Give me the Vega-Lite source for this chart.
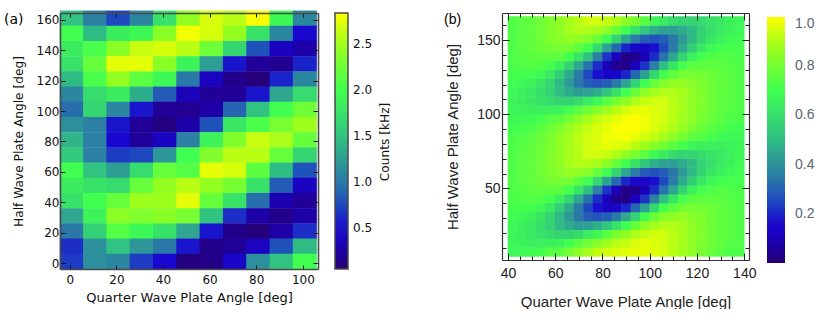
{"$schema":"https://vega.github.io/schema/vega-lite/v6.json","background":"white","padding":{"left":4,"top":10,"right":0,"bottom":0},"spacing":53,
"config":{"view":{"stroke":null},"axis":{"grid":false}},
"datasets":{"a":[
{"q":0,"h":160,"v":1.5},{"q":10,"h":160,"v":1.05},{"q":20,"h":160,"v":0.75},{"q":30,"h":160,"v":1.1},{"q":40,"h":160,"v":1.75},{"q":50,"h":160,"v":2.45},{"q":60,"h":160,"v":2.7},{"q":70,"h":160,"v":2.6},{"q":80,"h":160,"v":2.83},{"q":90,"h":160,"v":1.95},{"q":100,"h":160,"v":1.1},
{"q":0,"h":150,"v":2.0},{"q":10,"h":150,"v":1.45},{"q":20,"h":150,"v":1.85},{"q":30,"h":150,"v":1.95},{"q":40,"h":150,"v":2.4},{"q":50,"h":150,"v":2.8},{"q":60,"h":150,"v":2.7},{"q":70,"h":150,"v":2.45},{"q":80,"h":150,"v":1.75},{"q":90,"h":150,"v":1.1},{"q":100,"h":150,"v":0.5},
{"q":0,"h":140,"v":1.85},{"q":10,"h":140,"v":2.05},{"q":20,"h":140,"v":2.4},{"q":30,"h":140,"v":2.65},{"q":40,"h":140,"v":2.7},{"q":50,"h":140,"v":2.6},{"q":60,"h":140,"v":2.25},{"q":70,"h":140,"v":1.65},{"q":80,"h":140,"v":0.8},{"q":90,"h":140,"v":0.4},{"q":100,"h":140,"v":0.25},
{"q":0,"h":130,"v":1.75},{"q":10,"h":130,"v":2.2},{"q":20,"h":130,"v":2.75},{"q":30,"h":130,"v":2.75},{"q":40,"h":130,"v":2.4},{"q":50,"h":130,"v":1.9},{"q":60,"h":130,"v":1.25},{"q":70,"h":130,"v":0.55},{"q":80,"h":130,"v":0.2},{"q":90,"h":130,"v":0.18},{"q":100,"h":130,"v":0.6},
{"q":0,"h":120,"v":1.45},{"q":10,"h":120,"v":2.05},{"q":20,"h":120,"v":2.45},{"q":30,"h":120,"v":2.15},{"q":40,"h":120,"v":1.95},{"q":50,"h":120,"v":1.0},{"q":60,"h":120,"v":0.4},{"q":70,"h":120,"v":0.15},{"q":80,"h":120,"v":0.1},{"q":90,"h":120,"v":0.6},{"q":100,"h":120,"v":1.1},
{"q":0,"h":110,"v":1.1},{"q":10,"h":110,"v":1.7},{"q":20,"h":110,"v":1.85},{"q":30,"h":110,"v":1.35},{"q":40,"h":110,"v":0.85},{"q":50,"h":110,"v":0.35},{"q":60,"h":110,"v":0.2},{"q":70,"h":110,"v":0.2},{"q":80,"h":110,"v":0.55},{"q":90,"h":110,"v":1.3},{"q":100,"h":110,"v":1.7},
{"q":0,"h":100,"v":0.95},{"q":10,"h":100,"v":1.65},{"q":20,"h":100,"v":1.1},{"q":30,"h":100,"v":0.55},{"q":40,"h":100,"v":0.2},{"q":50,"h":100,"v":0.18},{"q":60,"h":100,"v":0.25},{"q":70,"h":100,"v":0.9},{"q":80,"h":100,"v":1.5},{"q":90,"h":100,"v":2.0},{"q":100,"h":100,"v":2.25},
{"q":0,"h":90,"v":1.15},{"q":10,"h":90,"v":1.05},{"q":20,"h":90,"v":0.55},{"q":30,"h":90,"v":0.2},{"q":40,"h":90,"v":0.12},{"q":50,"h":90,"v":0.25},{"q":60,"h":90,"v":0.8},{"q":70,"h":90,"v":1.8},{"q":80,"h":90,"v":2.05},{"q":90,"h":90,"v":2.3},{"q":100,"h":90,"v":2.5},
{"q":0,"h":80,"v":1.4},{"q":10,"h":80,"v":1.05},{"q":20,"h":80,"v":0.5},{"q":30,"h":80,"v":0.2},{"q":40,"h":80,"v":0.4},{"q":50,"h":80,"v":1.05},{"q":60,"h":80,"v":1.9},{"q":70,"h":80,"v":2.35},{"q":80,"h":80,"v":2.65},{"q":90,"h":80,"v":2.55},{"q":100,"h":80,"v":2.2},
{"q":0,"h":70,"v":1.55},{"q":10,"h":70,"v":1.05},{"q":20,"h":70,"v":0.7},{"q":30,"h":70,"v":0.75},{"q":40,"h":70,"v":1.2},{"q":50,"h":70,"v":2.0},{"q":60,"h":70,"v":2.35},{"q":70,"h":70,"v":2.6},{"q":80,"h":70,"v":2.6},{"q":90,"h":70,"v":2.2},{"q":100,"h":70,"v":1.65},
{"q":0,"h":60,"v":2.0},{"q":10,"h":60,"v":1.5},{"q":20,"h":60,"v":1.25},{"q":30,"h":60,"v":1.7},{"q":40,"h":60,"v":2.2},{"q":50,"h":60,"v":2.1},{"q":60,"h":60,"v":2.75},{"q":70,"h":60,"v":2.7},{"q":80,"h":60,"v":2.15},{"q":90,"h":60,"v":1.45},{"q":100,"h":60,"v":0.8},
{"q":0,"h":50,"v":1.85},{"q":10,"h":50,"v":1.75},{"q":20,"h":50,"v":1.7},{"q":30,"h":50,"v":2.2},{"q":40,"h":50,"v":2.45},{"q":50,"h":50,"v":2.6},{"q":60,"h":50,"v":2.45},{"q":70,"h":50,"v":2.3},{"q":80,"h":50,"v":1.75},{"q":90,"h":50,"v":0.85},{"q":100,"h":50,"v":0.4},
{"q":0,"h":40,"v":1.75},{"q":10,"h":40,"v":2.0},{"q":20,"h":40,"v":2.2},{"q":30,"h":40,"v":2.5},{"q":40,"h":40,"v":2.5},{"q":50,"h":40,"v":2.75},{"q":60,"h":40,"v":2.2},{"q":70,"h":40,"v":1.75},{"q":80,"h":40,"v":0.95},{"q":90,"h":40,"v":0.3},{"q":100,"h":40,"v":0.2},
{"q":0,"h":30,"v":1.3},{"q":10,"h":30,"v":1.9},{"q":20,"h":30,"v":2.4},{"q":30,"h":30,"v":2.35},{"q":40,"h":30,"v":2.4},{"q":50,"h":30,"v":2.3},{"q":60,"h":30,"v":1.5},{"q":70,"h":30,"v":0.65},{"q":80,"h":30,"v":0.25},{"q":90,"h":30,"v":0.15},{"q":100,"h":30,"v":0.25},
{"q":0,"h":20,"v":1.0},{"q":10,"h":20,"v":1.6},{"q":20,"h":20,"v":2.1},{"q":30,"h":20,"v":1.95},{"q":40,"h":20,"v":1.75},{"q":50,"h":20,"v":1.3},{"q":60,"h":20,"v":0.55},{"q":70,"h":20,"v":0.15},{"q":80,"h":20,"v":0.1},{"q":90,"h":20,"v":0.25},{"q":100,"h":20,"v":0.65},
{"q":0,"h":10,"v":0.65},{"q":10,"h":10,"v":1.15},{"q":20,"h":10,"v":1.5},{"q":30,"h":10,"v":1.2},{"q":40,"h":10,"v":1.0},{"q":50,"h":10,"v":0.55},{"q":60,"h":10,"v":0.15},{"q":70,"h":10,"v":0.2},{"q":80,"h":10,"v":0.4},{"q":90,"h":10,"v":0.8},{"q":100,"h":10,"v":1.45},
{"q":0,"h":0,"v":0.7},{"q":10,"h":0,"v":1.15},{"q":20,"h":0,"v":1.1},{"q":30,"h":0,"v":0.7},{"q":40,"h":0,"v":0.5},{"q":50,"h":0,"v":0.12},{"q":60,"h":0,"v":0.15},{"q":70,"h":0,"v":0.45},{"q":80,"h":0,"v":1.15},{"q":90,"h":0,"v":1.5},{"q":100,"h":0,"v":2.0}
],"b":[
{"q":42,"h":6,"v":0.68},{"q":42,"h":12,"v":0.67},{"q":42,"h":18,"v":0.67},{"q":42,"h":24,"v":0.68},{"q":42,"h":30,"v":0.695},{"q":42,"h":36,"v":0.71},{"q":42,"h":42,"v":0.72},{"q":42,"h":48,"v":0.73},{"q":42,"h":54,"v":0.73},{"q":42,"h":60,"v":0.73},{"q":42,"h":66,"v":0.73},{"q":42,"h":72,"v":0.73},{"q":42,"h":78,"v":0.73},{"q":42,"h":84,"v":0.72},{"q":42,"h":90,"v":0.7},{"q":42,"h":96,"v":0.68},{"q":42,"h":102,"v":0.67},{"q":42,"h":108,"v":0.67},{"q":42,"h":114,"v":0.68},{"q":42,"h":120,"v":0.695},{"q":42,"h":126,"v":0.71},{"q":42,"h":132,"v":0.72},{"q":42,"h":138,"v":0.73},{"q":42,"h":144,"v":0.73},{"q":42,"h":150,"v":0.73},{"q":42,"h":156,"v":0.73},{"q":42,"h":162,"v":0.73},
{"q":46,"h":6,"v":0.68},{"q":46,"h":12,"v":0.66},{"q":46,"h":18,"v":0.65},{"q":46,"h":24,"v":0.66},{"q":46,"h":30,"v":0.68},{"q":46,"h":36,"v":0.71},{"q":46,"h":42,"v":0.73},{"q":46,"h":48,"v":0.74},{"q":46,"h":54,"v":0.75},{"q":46,"h":60,"v":0.75},{"q":46,"h":66,"v":0.75},{"q":46,"h":72,"v":0.75},{"q":46,"h":78,"v":0.74},{"q":46,"h":84,"v":0.73},{"q":46,"h":90,"v":0.71},{"q":46,"h":96,"v":0.68},{"q":46,"h":102,"v":0.66},{"q":46,"h":108,"v":0.65},{"q":46,"h":114,"v":0.66},{"q":46,"h":120,"v":0.68},{"q":46,"h":126,"v":0.71},{"q":46,"h":132,"v":0.73},{"q":46,"h":138,"v":0.74},{"q":46,"h":144,"v":0.75},{"q":46,"h":150,"v":0.75},{"q":46,"h":156,"v":0.75},{"q":46,"h":162,"v":0.75},
{"q":50,"h":6,"v":0.69},{"q":50,"h":12,"v":0.65},{"q":50,"h":18,"v":0.63},{"q":50,"h":24,"v":0.635},{"q":50,"h":30,"v":0.66},{"q":50,"h":36,"v":0.7},{"q":50,"h":42,"v":0.74},{"q":50,"h":48,"v":0.755},{"q":50,"h":54,"v":0.765},{"q":50,"h":60,"v":0.765},{"q":50,"h":66,"v":0.765},{"q":50,"h":72,"v":0.765},{"q":50,"h":78,"v":0.76},{"q":50,"h":84,"v":0.75},{"q":50,"h":90,"v":0.73},{"q":50,"h":96,"v":0.69},{"q":50,"h":102,"v":0.65},{"q":50,"h":108,"v":0.63},{"q":50,"h":114,"v":0.635},{"q":50,"h":120,"v":0.66},{"q":50,"h":126,"v":0.7},{"q":50,"h":132,"v":0.74},{"q":50,"h":138,"v":0.755},{"q":50,"h":144,"v":0.765},{"q":50,"h":150,"v":0.765},{"q":50,"h":156,"v":0.765},{"q":50,"h":162,"v":0.765},
{"q":54,"h":6,"v":0.71},{"q":54,"h":12,"v":0.65},{"q":54,"h":18,"v":0.61},{"q":54,"h":24,"v":0.6},{"q":54,"h":30,"v":0.625},{"q":54,"h":36,"v":0.68},{"q":54,"h":42,"v":0.73},{"q":54,"h":48,"v":0.76},{"q":54,"h":54,"v":0.785},{"q":54,"h":60,"v":0.79},{"q":54,"h":66,"v":0.79},{"q":54,"h":72,"v":0.79},{"q":54,"h":78,"v":0.79},{"q":54,"h":84,"v":0.775},{"q":54,"h":90,"v":0.75},{"q":54,"h":96,"v":0.71},{"q":54,"h":102,"v":0.65},{"q":54,"h":108,"v":0.61},{"q":54,"h":114,"v":0.6},{"q":54,"h":120,"v":0.625},{"q":54,"h":126,"v":0.68},{"q":54,"h":132,"v":0.73},{"q":54,"h":138,"v":0.76},{"q":54,"h":144,"v":0.785},{"q":54,"h":150,"v":0.79},{"q":54,"h":156,"v":0.79},{"q":54,"h":162,"v":0.79},
{"q":58,"h":6,"v":0.74},{"q":58,"h":12,"v":0.66},{"q":58,"h":18,"v":0.59},{"q":58,"h":24,"v":0.56},{"q":58,"h":30,"v":0.57},{"q":58,"h":36,"v":0.63},{"q":58,"h":42,"v":0.705},{"q":58,"h":48,"v":0.76},{"q":58,"h":54,"v":0.8},{"q":58,"h":60,"v":0.82},{"q":58,"h":66,"v":0.825},{"q":58,"h":72,"v":0.825},{"q":58,"h":78,"v":0.82},{"q":58,"h":84,"v":0.81},{"q":58,"h":90,"v":0.785},{"q":58,"h":96,"v":0.74},{"q":58,"h":102,"v":0.66},{"q":58,"h":108,"v":0.59},{"q":58,"h":114,"v":0.56},{"q":58,"h":120,"v":0.57},{"q":58,"h":126,"v":0.63},{"q":58,"h":132,"v":0.705},{"q":58,"h":138,"v":0.76},{"q":58,"h":144,"v":0.8},{"q":58,"h":150,"v":0.82},{"q":58,"h":156,"v":0.825},{"q":58,"h":162,"v":0.825},
{"q":62,"h":6,"v":0.755},{"q":62,"h":12,"v":0.67},{"q":62,"h":18,"v":0.57},{"q":62,"h":24,"v":0.5},{"q":62,"h":30,"v":0.495},{"q":62,"h":36,"v":0.55},{"q":62,"h":42,"v":0.65},{"q":62,"h":48,"v":0.75},{"q":62,"h":54,"v":0.805},{"q":62,"h":60,"v":0.84},{"q":62,"h":66,"v":0.855},{"q":62,"h":72,"v":0.855},{"q":62,"h":78,"v":0.855},{"q":62,"h":84,"v":0.85},{"q":62,"h":90,"v":0.82},{"q":62,"h":96,"v":0.755},{"q":62,"h":102,"v":0.67},{"q":62,"h":108,"v":0.57},{"q":62,"h":114,"v":0.5},{"q":62,"h":120,"v":0.495},{"q":62,"h":126,"v":0.55},{"q":62,"h":132,"v":0.65},{"q":62,"h":138,"v":0.75},{"q":62,"h":144,"v":0.805},{"q":62,"h":150,"v":0.84},{"q":62,"h":156,"v":0.855},{"q":62,"h":162,"v":0.855},
{"q":66,"h":6,"v":0.8},{"q":66,"h":12,"v":0.705},{"q":66,"h":18,"v":0.57},{"q":66,"h":24,"v":0.46},{"q":66,"h":30,"v":0.42},{"q":66,"h":36,"v":0.46},{"q":66,"h":42,"v":0.57},{"q":66,"h":48,"v":0.705},{"q":66,"h":54,"v":0.8},{"q":66,"h":60,"v":0.865},{"q":66,"h":66,"v":0.89},{"q":66,"h":72,"v":0.89},{"q":66,"h":78,"v":0.89},{"q":66,"h":84,"v":0.885},{"q":66,"h":90,"v":0.865},{"q":66,"h":96,"v":0.8},{"q":66,"h":102,"v":0.705},{"q":66,"h":108,"v":0.57},{"q":66,"h":114,"v":0.46},{"q":66,"h":120,"v":0.42},{"q":66,"h":126,"v":0.46},{"q":66,"h":132,"v":0.57},{"q":66,"h":138,"v":0.705},{"q":66,"h":144,"v":0.8},{"q":66,"h":150,"v":0.865},{"q":66,"h":156,"v":0.89},{"q":66,"h":162,"v":0.89},
{"q":70,"h":6,"v":0.85},{"q":70,"h":12,"v":0.75},{"q":70,"h":18,"v":0.59},{"q":70,"h":24,"v":0.43},{"q":70,"h":30,"v":0.34},{"q":70,"h":36,"v":0.35},{"q":70,"h":42,"v":0.45},{"q":70,"h":48,"v":0.62},{"q":70,"h":54,"v":0.755},{"q":70,"h":60,"v":0.855},{"q":70,"h":66,"v":0.905},{"q":70,"h":72,"v":0.915},{"q":70,"h":78,"v":0.915},{"q":70,"h":84,"v":0.915},{"q":70,"h":90,"v":0.9},{"q":70,"h":96,"v":0.85},{"q":70,"h":102,"v":0.75},{"q":70,"h":108,"v":0.59},{"q":70,"h":114,"v":0.43},{"q":70,"h":120,"v":0.34},{"q":70,"h":126,"v":0.35},{"q":70,"h":132,"v":0.45},{"q":70,"h":138,"v":0.62},{"q":70,"h":144,"v":0.755},{"q":70,"h":150,"v":0.855},{"q":70,"h":156,"v":0.905},{"q":70,"h":162,"v":0.915},
{"q":74,"h":6,"v":0.89},{"q":74,"h":12,"v":0.79},{"q":74,"h":18,"v":0.64},{"q":74,"h":24,"v":0.44},{"q":74,"h":30,"v":0.29},{"q":74,"h":36,"v":0.25},{"q":74,"h":42,"v":0.33},{"q":74,"h":48,"v":0.51},{"q":74,"h":54,"v":0.7},{"q":74,"h":60,"v":0.835},{"q":74,"h":66,"v":0.905},{"q":74,"h":72,"v":0.945},{"q":74,"h":78,"v":0.945},{"q":74,"h":84,"v":0.945},{"q":74,"h":90,"v":0.93},{"q":74,"h":96,"v":0.89},{"q":74,"h":102,"v":0.79},{"q":74,"h":108,"v":0.64},{"q":74,"h":114,"v":0.44},{"q":74,"h":120,"v":0.29},{"q":74,"h":126,"v":0.25},{"q":74,"h":132,"v":0.33},{"q":74,"h":138,"v":0.51},{"q":74,"h":144,"v":0.7},{"q":74,"h":150,"v":0.835},{"q":74,"h":156,"v":0.905},{"q":74,"h":162,"v":0.945},
{"q":78,"h":6,"v":0.925},{"q":78,"h":12,"v":0.835},{"q":78,"h":18,"v":0.68},{"q":78,"h":24,"v":0.47},{"q":78,"h":30,"v":0.27},{"q":78,"h":36,"v":0.17},{"q":78,"h":42,"v":0.21},{"q":78,"h":48,"v":0.36},{"q":78,"h":54,"v":0.58},{"q":78,"h":60,"v":0.775},{"q":78,"h":66,"v":0.89},{"q":78,"h":72,"v":0.945},{"q":78,"h":78,"v":0.955},{"q":78,"h":84,"v":0.96},{"q":78,"h":90,"v":0.955},{"q":78,"h":96,"v":0.925},{"q":78,"h":102,"v":0.835},{"q":78,"h":108,"v":0.68},{"q":78,"h":114,"v":0.47},{"q":78,"h":120,"v":0.27},{"q":78,"h":126,"v":0.17},{"q":78,"h":132,"v":0.21},{"q":78,"h":138,"v":0.36},{"q":78,"h":144,"v":0.58},{"q":78,"h":150,"v":0.775},{"q":78,"h":156,"v":0.89},{"q":78,"h":162,"v":0.945},
{"q":82,"h":6,"v":0.945},{"q":82,"h":12,"v":0.88},{"q":82,"h":18,"v":0.75},{"q":82,"h":24,"v":0.53},{"q":82,"h":30,"v":0.29},{"q":82,"h":36,"v":0.13},{"q":82,"h":42,"v":0.1},{"q":82,"h":48,"v":0.22},{"q":82,"h":54,"v":0.44},{"q":82,"h":60,"v":0.69},{"q":82,"h":66,"v":0.85},{"q":82,"h":72,"v":0.93},{"q":82,"h":78,"v":0.97},{"q":82,"h":84,"v":0.98},{"q":82,"h":90,"v":0.97},{"q":82,"h":96,"v":0.945},{"q":82,"h":102,"v":0.88},{"q":82,"h":108,"v":0.75},{"q":82,"h":114,"v":0.53},{"q":82,"h":120,"v":0.29},{"q":82,"h":126,"v":0.13},{"q":82,"h":132,"v":0.1},{"q":82,"h":138,"v":0.22},{"q":82,"h":144,"v":0.44},{"q":82,"h":150,"v":0.69},{"q":82,"h":156,"v":0.85},{"q":82,"h":162,"v":0.93},
{"q":86,"h":6,"v":0.955},{"q":86,"h":12,"v":0.915},{"q":86,"h":18,"v":0.81},{"q":86,"h":24,"v":0.61},{"q":86,"h":30,"v":0.35},{"q":86,"h":36,"v":0.14},{"q":86,"h":42,"v":0.04},{"q":86,"h":48,"v":0.11},{"q":86,"h":54,"v":0.31},{"q":86,"h":60,"v":0.57},{"q":86,"h":66,"v":0.775},{"q":86,"h":72,"v":0.9},{"q":86,"h":78,"v":0.96},{"q":86,"h":84,"v":0.985},{"q":86,"h":90,"v":0.99},{"q":86,"h":96,"v":0.97},{"q":86,"h":102,"v":0.915},{"q":86,"h":108,"v":0.81},{"q":86,"h":114,"v":0.61},{"q":86,"h":120,"v":0.35},{"q":86,"h":126,"v":0.14},{"q":86,"h":132,"v":0.04},{"q":86,"h":138,"v":0.11},{"q":86,"h":144,"v":0.31},{"q":86,"h":150,"v":0.57},{"q":86,"h":156,"v":0.775},{"q":86,"h":162,"v":0.9},
{"q":90,"h":6,"v":0.965},{"q":90,"h":12,"v":0.93},{"q":90,"h":18,"v":0.855},{"q":90,"h":24,"v":0.7},{"q":90,"h":30,"v":0.45},{"q":90,"h":36,"v":0.2},{"q":90,"h":42,"v":0.03},{"q":90,"h":48,"v":0.03},{"q":90,"h":54,"v":0.2},{"q":90,"h":60,"v":0.45},{"q":90,"h":66,"v":0.7},{"q":90,"h":72,"v":0.855},{"q":90,"h":78,"v":0.95},{"q":90,"h":84,"v":0.99},{"q":90,"h":90,"v":1.0},{"q":90,"h":96,"v":0.99},{"q":90,"h":102,"v":0.95},{"q":90,"h":108,"v":0.855},{"q":90,"h":114,"v":0.7},{"q":90,"h":120,"v":0.45},{"q":90,"h":126,"v":0.2},{"q":90,"h":132,"v":0.03},{"q":90,"h":138,"v":0.03},{"q":90,"h":144,"v":0.2},{"q":90,"h":150,"v":0.45},{"q":90,"h":156,"v":0.7},{"q":90,"h":162,"v":0.855},
{"q":94,"h":6,"v":0.97},{"q":94,"h":12,"v":0.955},{"q":94,"h":18,"v":0.9},{"q":94,"h":24,"v":0.775},{"q":94,"h":30,"v":0.57},{"q":94,"h":36,"v":0.31},{"q":94,"h":42,"v":0.11},{"q":94,"h":48,"v":0.04},{"q":94,"h":54,"v":0.14},{"q":94,"h":60,"v":0.35},{"q":94,"h":66,"v":0.61},{"q":94,"h":72,"v":0.81},{"q":94,"h":78,"v":0.915},{"q":94,"h":84,"v":0.97},{"q":94,"h":90,"v":0.995},{"q":94,"h":96,"v":1.0},{"q":94,"h":102,"v":0.97},{"q":94,"h":108,"v":0.9},{"q":94,"h":114,"v":0.775},{"q":94,"h":120,"v":0.57},{"q":94,"h":126,"v":0.31},{"q":94,"h":132,"v":0.11},{"q":94,"h":138,"v":0.04},{"q":94,"h":144,"v":0.14},{"q":94,"h":150,"v":0.35},{"q":94,"h":156,"v":0.61},{"q":94,"h":162,"v":0.81},
{"q":98,"h":6,"v":0.97},{"q":98,"h":12,"v":0.97},{"q":98,"h":18,"v":0.93},{"q":98,"h":24,"v":0.85},{"q":98,"h":30,"v":0.69},{"q":98,"h":36,"v":0.44},{"q":98,"h":42,"v":0.22},{"q":98,"h":48,"v":0.1},{"q":98,"h":54,"v":0.13},{"q":98,"h":60,"v":0.29},{"q":98,"h":66,"v":0.53},{"q":98,"h":72,"v":0.75},{"q":98,"h":78,"v":0.88},{"q":98,"h":84,"v":0.945},{"q":98,"h":90,"v":0.98},{"q":98,"h":96,"v":0.985},{"q":98,"h":102,"v":0.97},{"q":98,"h":108,"v":0.93},{"q":98,"h":114,"v":0.85},{"q":98,"h":120,"v":0.69},{"q":98,"h":126,"v":0.44},{"q":98,"h":132,"v":0.22},{"q":98,"h":138,"v":0.1},{"q":98,"h":144,"v":0.13},{"q":98,"h":150,"v":0.29},{"q":98,"h":156,"v":0.53},{"q":98,"h":162,"v":0.75},
{"q":102,"h":6,"v":0.96},{"q":102,"h":12,"v":0.955},{"q":102,"h":18,"v":0.945},{"q":102,"h":24,"v":0.89},{"q":102,"h":30,"v":0.775},{"q":102,"h":36,"v":0.58},{"q":102,"h":42,"v":0.36},{"q":102,"h":48,"v":0.21},{"q":102,"h":54,"v":0.17},{"q":102,"h":60,"v":0.27},{"q":102,"h":66,"v":0.47},{"q":102,"h":72,"v":0.68},{"q":102,"h":78,"v":0.835},{"q":102,"h":84,"v":0.925},{"q":102,"h":90,"v":0.955},{"q":102,"h":96,"v":0.96},{"q":102,"h":102,"v":0.955},{"q":102,"h":108,"v":0.945},{"q":102,"h":114,"v":0.89},{"q":102,"h":120,"v":0.775},{"q":102,"h":126,"v":0.58},{"q":102,"h":132,"v":0.36},{"q":102,"h":138,"v":0.21},{"q":102,"h":144,"v":0.17},{"q":102,"h":150,"v":0.27},{"q":102,"h":156,"v":0.47},{"q":102,"h":162,"v":0.68},
{"q":106,"h":6,"v":0.945},{"q":106,"h":12,"v":0.945},{"q":106,"h":18,"v":0.945},{"q":106,"h":24,"v":0.905},{"q":106,"h":30,"v":0.835},{"q":106,"h":36,"v":0.7},{"q":106,"h":42,"v":0.51},{"q":106,"h":48,"v":0.33},{"q":106,"h":54,"v":0.25},{"q":106,"h":60,"v":0.29},{"q":106,"h":66,"v":0.44},{"q":106,"h":72,"v":0.64},{"q":106,"h":78,"v":0.79},{"q":106,"h":84,"v":0.89},{"q":106,"h":90,"v":0.93},{"q":106,"h":96,"v":0.945},{"q":106,"h":102,"v":0.945},{"q":106,"h":108,"v":0.945},{"q":106,"h":114,"v":0.905},{"q":106,"h":120,"v":0.835},{"q":106,"h":126,"v":0.7},{"q":106,"h":132,"v":0.51},{"q":106,"h":138,"v":0.33},{"q":106,"h":144,"v":0.25},{"q":106,"h":150,"v":0.29},{"q":106,"h":156,"v":0.44},{"q":106,"h":162,"v":0.64},
{"q":110,"h":6,"v":0.915},{"q":110,"h":12,"v":0.915},{"q":110,"h":18,"v":0.915},{"q":110,"h":24,"v":0.905},{"q":110,"h":30,"v":0.855},{"q":110,"h":36,"v":0.755},{"q":110,"h":42,"v":0.62},{"q":110,"h":48,"v":0.45},{"q":110,"h":54,"v":0.35},{"q":110,"h":60,"v":0.34},{"q":110,"h":66,"v":0.43},{"q":110,"h":72,"v":0.59},{"q":110,"h":78,"v":0.75},{"q":110,"h":84,"v":0.85},{"q":110,"h":90,"v":0.9},{"q":110,"h":96,"v":0.915},{"q":110,"h":102,"v":0.915},{"q":110,"h":108,"v":0.915},{"q":110,"h":114,"v":0.905},{"q":110,"h":120,"v":0.855},{"q":110,"h":126,"v":0.755},{"q":110,"h":132,"v":0.62},{"q":110,"h":138,"v":0.45},{"q":110,"h":144,"v":0.35},{"q":110,"h":150,"v":0.34},{"q":110,"h":156,"v":0.43},{"q":110,"h":162,"v":0.59},
{"q":114,"h":6,"v":0.885},{"q":114,"h":12,"v":0.89},{"q":114,"h":18,"v":0.89},{"q":114,"h":24,"v":0.89},{"q":114,"h":30,"v":0.865},{"q":114,"h":36,"v":0.8},{"q":114,"h":42,"v":0.705},{"q":114,"h":48,"v":0.57},{"q":114,"h":54,"v":0.46},{"q":114,"h":60,"v":0.42},{"q":114,"h":66,"v":0.46},{"q":114,"h":72,"v":0.57},{"q":114,"h":78,"v":0.705},{"q":114,"h":84,"v":0.8},{"q":114,"h":90,"v":0.865},{"q":114,"h":96,"v":0.885},{"q":114,"h":102,"v":0.89},{"q":114,"h":108,"v":0.89},{"q":114,"h":114,"v":0.89},{"q":114,"h":120,"v":0.865},{"q":114,"h":126,"v":0.8},{"q":114,"h":132,"v":0.705},{"q":114,"h":138,"v":0.57},{"q":114,"h":144,"v":0.46},{"q":114,"h":150,"v":0.42},{"q":114,"h":156,"v":0.46},{"q":114,"h":162,"v":0.57},
{"q":118,"h":6,"v":0.85},{"q":118,"h":12,"v":0.855},{"q":118,"h":18,"v":0.855},{"q":118,"h":24,"v":0.855},{"q":118,"h":30,"v":0.84},{"q":118,"h":36,"v":0.805},{"q":118,"h":42,"v":0.75},{"q":118,"h":48,"v":0.65},{"q":118,"h":54,"v":0.55},{"q":118,"h":60,"v":0.495},{"q":118,"h":66,"v":0.5},{"q":118,"h":72,"v":0.57},{"q":118,"h":78,"v":0.67},{"q":118,"h":84,"v":0.755},{"q":118,"h":90,"v":0.82},{"q":118,"h":96,"v":0.85},{"q":118,"h":102,"v":0.855},{"q":118,"h":108,"v":0.855},{"q":118,"h":114,"v":0.855},{"q":118,"h":120,"v":0.84},{"q":118,"h":126,"v":0.805},{"q":118,"h":132,"v":0.75},{"q":118,"h":138,"v":0.65},{"q":118,"h":144,"v":0.55},{"q":118,"h":150,"v":0.495},{"q":118,"h":156,"v":0.5},{"q":118,"h":162,"v":0.57},
{"q":122,"h":6,"v":0.81},{"q":122,"h":12,"v":0.82},{"q":122,"h":18,"v":0.825},{"q":122,"h":24,"v":0.825},{"q":122,"h":30,"v":0.82},{"q":122,"h":36,"v":0.8},{"q":122,"h":42,"v":0.76},{"q":122,"h":48,"v":0.705},{"q":122,"h":54,"v":0.63},{"q":122,"h":60,"v":0.57},{"q":122,"h":66,"v":0.56},{"q":122,"h":72,"v":0.59},{"q":122,"h":78,"v":0.66},{"q":122,"h":84,"v":0.74},{"q":122,"h":90,"v":0.785},{"q":122,"h":96,"v":0.81},{"q":122,"h":102,"v":0.82},{"q":122,"h":108,"v":0.825},{"q":122,"h":114,"v":0.825},{"q":122,"h":120,"v":0.82},{"q":122,"h":126,"v":0.8},{"q":122,"h":132,"v":0.76},{"q":122,"h":138,"v":0.705},{"q":122,"h":144,"v":0.63},{"q":122,"h":150,"v":0.57},{"q":122,"h":156,"v":0.56},{"q":122,"h":162,"v":0.59},
{"q":126,"h":6,"v":0.775},{"q":126,"h":12,"v":0.79},{"q":126,"h":18,"v":0.79},{"q":126,"h":24,"v":0.79},{"q":126,"h":30,"v":0.79},{"q":126,"h":36,"v":0.785},{"q":126,"h":42,"v":0.76},{"q":126,"h":48,"v":0.73},{"q":126,"h":54,"v":0.68},{"q":126,"h":60,"v":0.625},{"q":126,"h":66,"v":0.6},{"q":126,"h":72,"v":0.61},{"q":126,"h":78,"v":0.65},{"q":126,"h":84,"v":0.71},{"q":126,"h":90,"v":0.75},{"q":126,"h":96,"v":0.775},{"q":126,"h":102,"v":0.79},{"q":126,"h":108,"v":0.79},{"q":126,"h":114,"v":0.79},{"q":126,"h":120,"v":0.79},{"q":126,"h":126,"v":0.785},{"q":126,"h":132,"v":0.76},{"q":126,"h":138,"v":0.73},{"q":126,"h":144,"v":0.68},{"q":126,"h":150,"v":0.625},{"q":126,"h":156,"v":0.6},{"q":126,"h":162,"v":0.61},
{"q":130,"h":6,"v":0.75},{"q":130,"h":12,"v":0.76},{"q":130,"h":18,"v":0.765},{"q":130,"h":24,"v":0.765},{"q":130,"h":30,"v":0.765},{"q":130,"h":36,"v":0.765},{"q":130,"h":42,"v":0.755},{"q":130,"h":48,"v":0.74},{"q":130,"h":54,"v":0.7},{"q":130,"h":60,"v":0.66},{"q":130,"h":66,"v":0.635},{"q":130,"h":72,"v":0.63},{"q":130,"h":78,"v":0.65},{"q":130,"h":84,"v":0.69},{"q":130,"h":90,"v":0.73},{"q":130,"h":96,"v":0.75},{"q":130,"h":102,"v":0.76},{"q":130,"h":108,"v":0.765},{"q":130,"h":114,"v":0.765},{"q":130,"h":120,"v":0.765},{"q":130,"h":126,"v":0.765},{"q":130,"h":132,"v":0.755},{"q":130,"h":138,"v":0.74},{"q":130,"h":144,"v":0.7},{"q":130,"h":150,"v":0.66},{"q":130,"h":156,"v":0.635},{"q":130,"h":162,"v":0.63},
{"q":134,"h":6,"v":0.73},{"q":134,"h":12,"v":0.74},{"q":134,"h":18,"v":0.75},{"q":134,"h":24,"v":0.75},{"q":134,"h":30,"v":0.75},{"q":134,"h":36,"v":0.75},{"q":134,"h":42,"v":0.74},{"q":134,"h":48,"v":0.73},{"q":134,"h":54,"v":0.71},{"q":134,"h":60,"v":0.68},{"q":134,"h":66,"v":0.66},{"q":134,"h":72,"v":0.65},{"q":134,"h":78,"v":0.66},{"q":134,"h":84,"v":0.68},{"q":134,"h":90,"v":0.71},{"q":134,"h":96,"v":0.73},{"q":134,"h":102,"v":0.74},{"q":134,"h":108,"v":0.75},{"q":134,"h":114,"v":0.75},{"q":134,"h":120,"v":0.75},{"q":134,"h":126,"v":0.75},{"q":134,"h":132,"v":0.74},{"q":134,"h":138,"v":0.73},{"q":134,"h":144,"v":0.71},{"q":134,"h":150,"v":0.68},{"q":134,"h":156,"v":0.66},{"q":134,"h":162,"v":0.65},
{"q":138,"h":6,"v":0.72},{"q":138,"h":12,"v":0.73},{"q":138,"h":18,"v":0.73},{"q":138,"h":24,"v":0.73},{"q":138,"h":30,"v":0.73},{"q":138,"h":36,"v":0.73},{"q":138,"h":42,"v":0.73},{"q":138,"h":48,"v":0.72},{"q":138,"h":54,"v":0.71},{"q":138,"h":60,"v":0.695},{"q":138,"h":66,"v":0.68},{"q":138,"h":72,"v":0.67},{"q":138,"h":78,"v":0.67},{"q":138,"h":84,"v":0.68},{"q":138,"h":90,"v":0.7},{"q":138,"h":96,"v":0.72},{"q":138,"h":102,"v":0.73},{"q":138,"h":108,"v":0.73},{"q":138,"h":114,"v":0.73},{"q":138,"h":120,"v":0.73},{"q":138,"h":126,"v":0.73},{"q":138,"h":132,"v":0.73},{"q":138,"h":138,"v":0.72},{"q":138,"h":144,"v":0.71},{"q":138,"h":150,"v":0.695},{"q":138,"h":156,"v":0.68},{"q":138,"h":162,"v":0.67}
]},
"hconcat":[
{"width":258,"height":256,"title":{"text":"(a)","anchor":"start","frame":"group","dx":-56,"offset":-16,"fontSize":14,"font":"DejaVu Sans","fontWeight":"normal"},"data":{"name":"a"},
"resolve":{"axis":{"x":"independent","y":"independent"}},
"layer":[
{"mark":{"type":"rect","width":24,"height":15.6,"xOffset":2,"yOffset":-1.5},"encoding":{
"x":{"field":"q","type":"quantitative","scale":{"domain":[-4.2,106.5],"nice":false,"zero":false},"axis":{"title":"Quarter Wave Plate Angle [deg]","values":[0,20,40,60,80,100],"tickSize":-4,"tickColor":"#111","tickWidth":1,"domain":true,"domainColor":"#4a4a4a","domainWidth":1.6,"zindex":1,"labelFont":"DejaVu Sans","labelFontSize":12,"labelColor":"#111","labelPadding":9,"titleFont":"DejaVu Sans","titleFontSize":13,"titleFontWeight":"normal","titleColor":"#111","titlePadding":6}},
"y":{"field":"h","type":"quantitative","scale":{"domain":[-3.9,164.5],"nice":false,"zero":false},"axis":{"title":"Half Wave Plate Angle [deg]","values":[0,20,40,60,80,100,120,140,160],"tickSize":-5,"tickColor":"#111","tickWidth":1,"domain":true,"domainColor":"#4a4a4a","domainWidth":1.6,"zindex":1,"labelFont":"DejaVu Sans","labelFontSize":12,"labelColor":"#111","labelPadding":6,"titleFont":"DejaVu Sans","titleFontSize":12.2,"titleFontWeight":"normal","titleColor":"#111","titlePadding":11}},
"color":{"field":"v","type":"quantitative","scale":{"interpolate":"rgb","domain":[0.06,0.28,0.5,0.75,1.0,1.5,2.0,2.5,2.84],"range":["#26006e","#1c00b0","#1808d0","#1e48c0","#2a78a8","#30c480","#40ff50","#9cff1c","#ffff00"]},
"legend":{"orient":"none","legendX":275,"legendY":0,"gradientLength":256,"gradientThickness":13,"gradientStrokeColor":"#4a4a4a","gradientStrokeWidth":1.5,"values":[0.5,1,1.5,2,2.5],"format":".1f","title":null,"labelFont":"DejaVu Sans","labelFontSize":12,"labelColor":"#111","labelOffset":5}}
}},
{"mark":{"type":"rect","opacity":0,"width":1,"height":1},"encoding":{
"x":{"field":"q","type":"quantitative","axis":{"orient":"top","title":null,"labels":false,"values":[0,20,40,60,80,100],"tickSize":-4,"tickColor":"#111","tickWidth":1,"domain":true,"domainColor":"#4a4a4a","domainWidth":1.6,"zindex":1}},
"y":{"field":"h","type":"quantitative","axis":{"orient":"right","title":"Counts [kHz]","titleAngle":270,"titleX":66,"titleY":128.5,"titleAlign":"center","titleBaseline":"middle","titleFont":"DejaVu Sans","titleFontSize":12.2,"titleFontWeight":"normal","titleColor":"#111","labels":false,"values":[0,20,40,60,80,100,120,140,160],"tickSize":-5,"tickColor":"#111","tickWidth":1,"domain":true,"domainColor":"#4a4a4a","domainWidth":1.6,"zindex":1}}
}}
]},
{"width":247,"height":247,"title":{"text":"(b)","anchor":"start","frame":"group","dx":-58,"offset":-14,"fontSize":14,"font":"Liberation Sans","fontWeight":"normal"},"data":{"name":"b"},
"resolve":{"axis":{"x":"independent","y":"independent"}},
"layer":[
{"mark":{"type":"rect","width":10,"height":9.4,"yOffset":-1.5},"encoding":{
"x":{"field":"q","type":"quantitative","scale":{"domain":[37.5,142],"nice":false,"zero":false},"axis":{"title":"Quarter Wave Plate Angle [deg]","values":[40,60,80,100,120,140],"tickSize":-7,"tickColor":"#222","tickWidth":1,"domain":true,"domainColor":"#333","domainWidth":1.2,"zindex":1,"labelFont":"Liberation Sans","labelFontSize":14,"labelColor":"#222","labelPadding":13,"titleFont":"Liberation Sans","titleFontSize":15,"titleFontWeight":"normal","titleColor":"#222","titlePadding":14}},
"y":{"field":"h","type":"quantitative","scale":{"domain":[1.6,168.4],"nice":false,"zero":false},"axis":{"title":"Half Wave Plate Angle [deg]","values":[50,100,150],"tickSize":-7,"tickColor":"#222","tickWidth":1,"domain":true,"domainColor":"#333","domainWidth":1.2,"zindex":1,"labelFont":"Liberation Sans","labelFontSize":14,"labelColor":"#222","labelPadding":9,"titleFont":"Liberation Sans","titleFontSize":15,"titleFontWeight":"normal","titleColor":"#222","titlePadding":16}},
"color":{"field":"v","type":"quantitative","scale":{"interpolate":"rgb","domain":[0,0.08,0.16,0.25,0.34,0.52,0.7,0.88,1.0],"range":["#26006e","#1c00b0","#1808d0","#1e48c0","#2a78a8","#30c480","#40ff50","#9cff1c","#ffff00"]},
"legend":{"orient":"none","legendX":265,"legendY":4,"gradientLength":246,"gradientThickness":18,"gradientStrokeWidth":0,"values":[0.2,0.4,0.6,0.8,1.0],"format":".1f","title":null,"labelFont":"Liberation Sans","labelFontSize":14,"labelColor":"#5b6670","labelOffset":10}}
}},
{"mark":{"type":"rect","opacity":0,"width":1,"height":1},"encoding":{
"x":{"field":"q","type":"quantitative","axis":{"orient":"top","title":null,"labels":false,"values":[40,60,80,100,120,140],"tickSize":-7,"tickColor":"#222","tickWidth":1,"domain":true,"domainColor":"#333","domainWidth":1.2,"zindex":1}},
"y":{"field":"h","type":"quantitative","axis":{"orient":"right","title":null,"labels":false,"values":[50,100,150],"tickSize":-7,"tickColor":"#222","tickWidth":1,"domain":true,"domainColor":"#333","domainWidth":1.2,"zindex":1}}
}},
{"mark":{"type":"rect","opacity":0,"width":1,"height":1},"encoding":{
"x":{"field":"q","type":"quantitative","axis":{"orient":"bottom","title":null,"labels":false,"values":[45,50,55,65,70,75,85,90,95,105,110,115,125,130,135],"tickSize":-4,"tickColor":"#222","tickWidth":1,"domain":false,"zindex":1}},
"y":{"field":"h","type":"quantitative","axis":{"orient":"left","title":null,"labels":false,"values":[10,20,30,40,60,70,80,90,110,120,130,140,160],"tickSize":-4,"tickColor":"#222","tickWidth":1,"domain":false,"zindex":1}}
}},
{"mark":{"type":"rect","opacity":0,"width":1,"height":1},"encoding":{
"x":{"field":"q","type":"quantitative","axis":{"orient":"top","title":null,"labels":false,"values":[45,50,55,65,70,75,85,90,95,105,110,115,125,130,135],"tickSize":-4,"tickColor":"#222","tickWidth":1,"domain":false,"zindex":1}},
"y":{"field":"h","type":"quantitative","axis":{"orient":"right","title":null,"labels":false,"values":[10,20,30,40,60,70,80,90,110,120,130,140,160],"tickSize":-4,"tickColor":"#222","tickWidth":1,"domain":false,"zindex":1}}
}}
]}
],
"resolve":{"scale":{"color":"independent"}}}
